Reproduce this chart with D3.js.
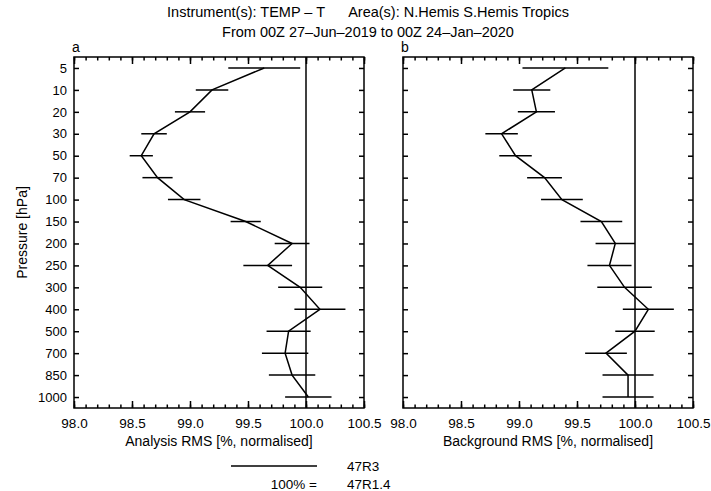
<!DOCTYPE html>
<html>
<head>
<meta charset="utf-8">
<script src="https://cdn.jsdelivr.net/npm/d3@7"></script>
<style>
  body { margin: 0; background: #fff; }
  text { font-family: "Liberation Sans", Arial, sans-serif; fill: #000; }
</style>
</head>
<body>
<svg width="711" height="491"></svg>
<script>
// pressure levels (hPa)
var levels = [5, 10, 20, 30, 50, 70, 100, 150, 200, 250, 300, 400, 500, 700, 850, 1000];

// panel a: analysis RMS and error bar half-width
var anaValues = [99.64, 99.19, 99.00, 98.69, 98.58, 98.72, 98.95, 99.48, 99.88, 99.67, 99.95, 100.12, 99.85, 99.82, 99.88, 100.02];
var anaErrors = [0.31, 0.14, 0.13, 0.11, 0.10, 0.13, 0.14, 0.13, 0.15, 0.21, 0.19, 0.22, 0.19, 0.20, 0.20, 0.20];

// panel b: background RMS and error bar half-width
var bgValues = [99.40, 99.11, 99.15, 98.85, 98.97, 99.22, 99.37, 99.71, 99.83, 99.78, 99.91, 100.115, 100.00, 99.75, 99.94, 99.94];
var bgErrors = [0.37, 0.16, 0.16, 0.14, 0.14, 0.15, 0.18, 0.18, 0.17, 0.19, 0.235, 0.22, 0.17, 0.18, 0.22, 0.22];

var xTicks = [98.0, 98.5, 99.0, 99.5, 100.0, 100.5];
var titleLines = ["Instrument(s): TEMP \u2013 T      Area(s): N.Hemis S.Hemis Tropics",
                  "From 00Z 27\u2013Jun\u20132019 to 00Z 24\u2013Jan\u20132020"];
var legendLabels = ["47R3", "47R1.4"];

var svg = d3.select("svg");
var top0 = 57, bottom0 = 408, pw = 290;

var y = d3.scalePoint().domain(levels).range([top0, bottom0]).padding(0.5);

//title
svg.selectAll(".title")
    .data(titleLines)
    .enter().append("text")
    .attr("x", 368)
    .attr("y", function (d, i) { return 17 + i * 20; })
    .attr("text-anchor", "middle")
    .attr("font-size", "14.5px")
    .style("white-space", "pre")
    .text(function (d) { return d; });

function drawPanel(left, letter, values, errors, xlabel, showY) {
    var x = d3.scaleLinear().domain([98.0, 100.5]).range([left, left + pw]);
    var g = svg.append("g");

    // minor ticks bottom/top
    var minor = d3.range(0, 26).map(function (i) { return 98 + i * 0.1; });
    g.append("g").attr("transform", "translate(0," + bottom0 + ")")
        .call(d3.axisBottom(x).tickValues(minor).tickSize(-3.5).tickFormat(""))
        .call(function (s) { s.select(".domain").remove(); });
    g.append("g").attr("transform", "translate(0," + top0 + ")")
        .call(d3.axisTop(x).tickValues(minor).tickSize(-3.5).tickFormat(""))
        .call(function (s) { s.select(".domain").remove(); });

    // major ticks
    g.append("g").attr("transform", "translate(0," + bottom0 + ")")
        .call(d3.axisBottom(x).tickValues(xTicks).tickSize(-7).tickPadding(10)
            .tickFormat(d3.format(".1f")))
        .call(function (s) {
            s.select(".domain").remove();
            s.selectAll("text").attr("font-size", "13.5px").attr("fill", "#000")
                .style("font-family", "'Liberation Sans', Arial, sans-serif");
        });
    g.append("g").attr("transform", "translate(0," + top0 + ")")
        .call(d3.axisTop(x).tickValues(xTicks).tickSize(-7).tickFormat(""))
        .call(function (s) { s.select(".domain").remove(); });

    // y ticks
    g.append("g").attr("transform", "translate(" + left + ",0)")
        .call(d3.axisLeft(y).tickSize(-5).tickPadding(7).tickFormat(showY ? null : ""))
        .call(function (s) {
            s.select(".domain").remove();
            s.selectAll("text").attr("font-size", "13px").attr("fill", "#000")
                .style("font-family", "'Liberation Sans', Arial, sans-serif");
        });
    g.append("g").attr("transform", "translate(" + (left + pw) + ",0)")
        .call(d3.axisRight(y).tickSize(-5).tickFormat(""))
        .call(function (s) { s.select(".domain").remove(); });

    g.selectAll(".tick line").attr("stroke", "#000").attr("stroke-width", 1.5);

    // frame
    g.append("rect")
        .attr("x", left).attr("y", top0)
        .attr("width", pw).attr("height", bottom0 - top0)
        .attr("fill", "none").attr("stroke", "#000").attr("stroke-width", 1.5);

    // 100% reference line
    g.append("line")
        .attr("x1", x(100)).attr("x2", x(100))
        .attr("y1", top0).attr("y2", bottom0)
        .attr("stroke", "#000").attr("stroke-width", 1.5);

    var rows = levels.map(function (p, i) { return [p, values[i], errors[i]]; });

    // error bars
    g.selectAll(".err")
        .data(rows)
        .enter().append("line")
        .attr("class", "err")
        .attr("x1", function (d) { return x(d[1] - d[2]); })
        .attr("x2", function (d) { return x(d[1] + d[2]); })
        .attr("y1", function (d) { return y(d[0]); })
        .attr("y2", function (d) { return y(d[0]); })
        .attr("stroke", "#000").attr("stroke-width", 1.5);

    // profile
    g.append("path")
        .datum(rows)
        .attr("fill", "none").attr("stroke", "#000").attr("stroke-width", 1.5)
        .attr("d", d3.line()
            .x(function (d) { return x(d[1]); })
            .y(function (d) { return y(d[0]); }));

    g.append("text")
        .attr("x", left - 2).attr("y", top0 - 5)
        .attr("font-size", "14px")
        .text(letter);

    g.append("text")
        .attr("x", left + pw / 2).attr("y", 446)
        .attr("text-anchor", "middle")
        .attr("font-size", "14px")
        .text(xlabel);
}

drawPanel(74, "a", anaValues, anaErrors, "Analysis RMS [%, normalised]", true);
drawPanel(403, "b", bgValues, bgErrors, "Background RMS [%, normalised]", false);

svg.append("text")
    .attr("transform", "translate(27," + ((top0 + bottom0) / 2) + ") rotate(-90)")
    .attr("text-anchor", "middle")
    .attr("font-size", "14px")
    .text("Pressure [hPa]");

// legend
svg.append("line")
    .attr("x1", 231).attr("x2", 317).attr("y1", 466).attr("y2", 466)
    .attr("stroke", "#000").attr("stroke-width", 1.5);
svg.append("text").attr("x", 347).attr("y", 471).attr("font-size", "13.5px").text(legendLabels[0]);
svg.append("text").attr("x", 317).attr("y", 489).attr("text-anchor", "end")
    .attr("font-size", "13.5px").text("100% =");
svg.append("text").attr("x", 347).attr("y", 489).attr("font-size", "13.5px").text(legendLabels[1]);
</script>
</body>
</html>
